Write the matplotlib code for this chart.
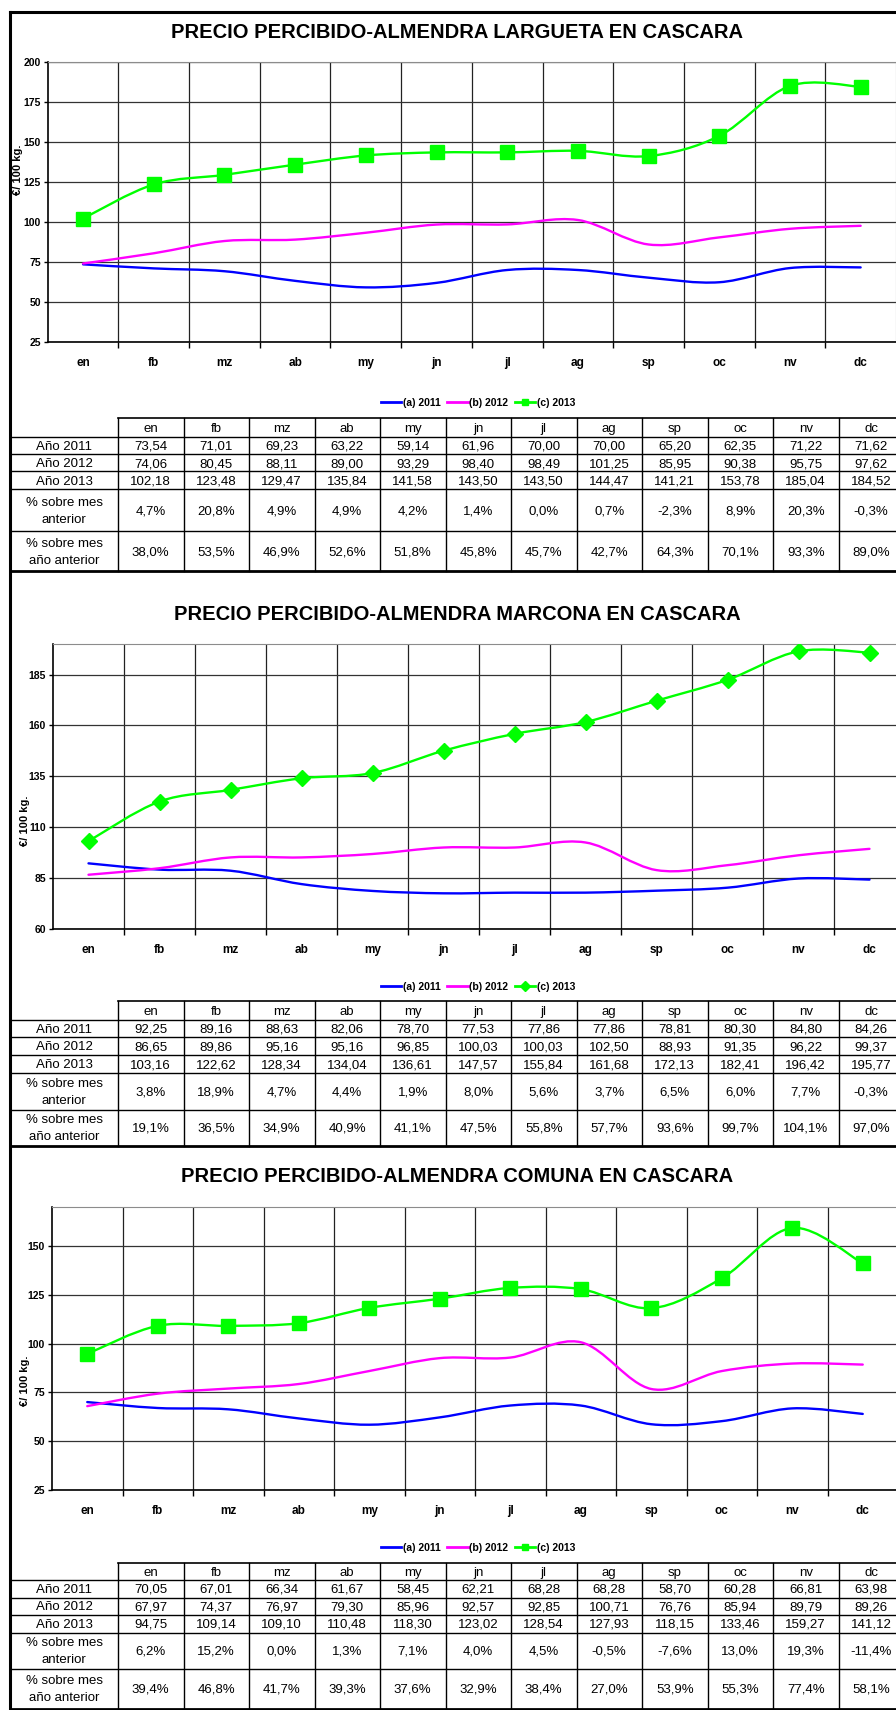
import numpy as np
import matplotlib
matplotlib.use('Agg')
import matplotlib.pyplot as plt
from matplotlib.path import Path
from matplotlib.patches import PathPatch
from matplotlib.lines import Line2D

plt.rcParams['font.family'] = ['Liberation Sans', 'DejaVu Sans']

meses = ['en', 'fb', 'mz', 'ab', 'my', 'jn', 'jl', 'ag', 'sp', 'oc', 'nv', 'dc']

# almendra largueta
larg_2011 = [73.54, 71.01, 69.23, 63.22, 59.14, 61.96, 70.00, 70.00, 65.20, 62.35, 71.22, 71.62]
larg_2012 = [74.06, 80.45, 88.11, 89.00, 93.29, 98.40, 98.49, 101.25, 85.95, 90.38, 95.75, 97.62]
larg_2013 = [102.18, 123.48, 129.47, 135.84, 141.58, 143.50, 143.50, 144.47, 141.21, 153.78, 185.04, 184.52]
larg_mes = [4.7, 20.8, 4.9, 4.9, 4.2, 1.4, 0.0, 0.7, -2.3, 8.9, 20.3, -0.3]
larg_anio = [38.0, 53.5, 46.9, 52.6, 51.8, 45.8, 45.7, 42.7, 64.3, 70.1, 93.3, 89.0]

# almendra marcona
marc_2011 = [92.25, 89.16, 88.63, 82.06, 78.70, 77.53, 77.86, 77.86, 78.81, 80.30, 84.80, 84.26]
marc_2012 = [86.65, 89.86, 95.16, 95.16, 96.85, 100.03, 100.03, 102.50, 88.93, 91.35, 96.22, 99.37]
marc_2013 = [103.16, 122.62, 128.34, 134.04, 136.61, 147.57, 155.84, 161.68, 172.13, 182.41, 196.42, 195.77]
marc_mes = [3.8, 18.9, 4.7, 4.4, 1.9, 8.0, 5.6, 3.7, 6.5, 6.0, 7.7, -0.3]
marc_anio = [19.1, 36.5, 34.9, 40.9, 41.1, 47.5, 55.8, 57.7, 93.6, 99.7, 104.1, 97.0]

# almendra comuna
com_2011 = [70.05, 67.01, 66.34, 61.67, 58.45, 62.21, 68.28, 68.28, 58.70, 60.28, 66.81, 63.98]
com_2012 = [67.97, 74.37, 76.97, 79.30, 85.96, 92.57, 92.85, 100.71, 76.76, 85.94, 89.79, 89.26]
com_2013 = [94.75, 109.14, 109.10, 110.48, 118.30, 123.02, 128.54, 127.93, 118.15, 133.46, 159.27, 141.12]
com_mes = [6.2, 15.2, 0.0, 1.3, 7.1, 4.0, 4.5, -0.5, -7.6, 13.0, 19.3, -11.4]
com_anio = [39.4, 46.8, 41.7, 39.3, 37.6, 32.9, 38.4, 27.0, 53.9, 55.3, 77.4, 58.1]

W, H = 896, 1710
fig = plt.figure(figsize=(W / 100, H / 100), dpi=100)

bg = fig.add_axes([0, 0, 1, 1])
bg.set_xlim(0, W)
bg.set_ylim(H, 0)
bg.axis('off')

# marco exterior
bg.plot([10, 10], [12, H], color='black', lw=2.2)
bg.plot([10, W], [12, 12], color='black', lw=2.2)


def caja(l, t, r, b):
    return [l / W, 1 - b / H, (r - l) / W, (b - t) / H]


def suave(ax, y, color):
    # linea suavizada tipo excel (bezier)
    x = np.arange(len(y), dtype=float)
    y = np.asarray(y, float)
    xp = np.r_[x[0], x, x[-1]]
    yp = np.r_[y[0], y, y[-1]]
    verts = [(x[0], y[0])]
    codes = [Path.MOVETO]
    for i in range(len(x) - 1):
        c1 = (x[i] + (xp[i + 2] - xp[i]) / 6, y[i] + (yp[i + 2] - yp[i]) / 6)
        c2 = (x[i + 1] - (xp[i + 3] - xp[i + 1]) / 6, y[i + 1] - (yp[i + 3] - yp[i + 1]) / 6)
        verts += [c1, c2, (x[i + 1], y[i + 1])]
        codes += [Path.CURVE4] * 3
    ax.add_patch(PathPatch(Path(verts, codes), fill=False, edgecolor=color,
                           lw=1.7, capstyle='round', zorder=3))


def num(v):
    return '{:.2f}'.format(v).replace('.', ',')


def pct(v):
    return '{:.1f}%'.format(v).replace('.', ',')


def tabla(top, alturas, a11, a12, a13, pmes, panio):
    x0, xl, cw = 10, 118, 65.5
    ys = np.cumsum([top] + alturas)
    filas = [[num(v) for v in a11], [num(v) for v in a12], [num(v) for v in a13],
             [pct(v) for v in pmes], [pct(v) for v in panio]]
    nombres = ['Año 2011', 'Año 2012', 'Año 2013', '% sobre mes\nanterior', '% sobre mes\naño anterior']
    for j, m in enumerate(meses):
        bg.text(xl + cw * (j + .5), (ys[0] + ys[1]) / 2 + 1, m, ha='center', va='center', fontsize=9.5)
    for i, fila in enumerate(filas):
        yc = (ys[i + 1] + ys[i + 2]) / 2 + 1
        bg.text((x0 + xl) / 2, yc, nombres[i], ha='center', va='center', fontsize=9.5, linespacing=1.55)
        for j, t in enumerate(fila):
            bg.text(xl + cw * (j + .5), yc, t, ha='center', va='center', fontsize=9.5)
    bg.plot([xl, W], [ys[0], ys[0]], color='black', lw=1.2)
    for k in range(1, len(ys) - 1):
        bg.plot([x0, W], [ys[k], ys[k]], color='black', lw=1.0)
    bg.plot([x0, W], [ys[-1], ys[-1]], color='black', lw=2.0)
    for j in range(13):
        bg.plot([xl + cw * j] * 2, [ys[0], ys[-1]], color='black', lw=1.0)


def panel(titulo, titulo_y, pos, ylim, yticks, s11, s12, s13, marca, ms, ylab, leg_y):
    fig.text(457 / W, 1 - titulo_y / H, titulo, ha='center', va='center',
             fontsize=14.5, fontweight='bold')
    ax = fig.add_axes(caja(*pos))
    x = np.arange(12)
    suave(ax, s11, '#0000ff')
    suave(ax, s12, '#ff00ff')
    suave(ax, s13, '#00ff00')
    ax.plot(x, s13, ls='none', marker=marca, ms=ms, color='#00ff00', zorder=4)
    ax.set_xlim(-0.5, 11.5)
    ax.set_ylim(*ylim)
    ax.set_yticks(yticks)
    ax.set_yticklabels([str(v) for v in yticks], fontsize=7.5, fontweight='bold')
    ax.set_xticks(x)
    ax.set_xticklabels(meses, fontsize=8.5, fontweight='bold')
    ax.set_xticks(np.arange(0.5, 11, 1), minor=True)
    ax.tick_params(axis='x', which='major', length=0, pad=11)
    ax.tick_params(axis='x', which='minor', length=4, width=1, direction='out')
    ax.tick_params(axis='y', length=3, width=1, pad=2)
    ax.grid(True, which='minor', axis='x', color='#222222', lw=0.9)
    ax.grid(True, which='major', axis='y', color='#333333', lw=0.9)
    ax.set_axisbelow(True)
    for s in ['top', 'right']:
        ax.spines[s].set_color('#8c8c8c')
    for s in ['left', 'bottom']:
        ax.spines[s].set_color('black')
        ax.spines[s].set_linewidth(1.2)
    fig.text(ylab[0] / W, 1 - ylab[1] / H, '€/ 100 kg.', rotation=90, ha='center', va='center',
             fontsize=8, fontweight='bold')
    handles = [Line2D([], [], color='#0000ff', lw=2),
               Line2D([], [], color='#ff00ff', lw=2),
               Line2D([], [], color='#00ff00', lw=2, marker=marca, ms=5)]
    fig.legend(handles, ['(a) 2011', '(b) 2012', '(c) 2013'], loc='center',
               bbox_to_anchor=(478 / W, 1 - leg_y / H), ncol=3, frameon=False,
               prop={'size': 7.5, 'weight': 'bold'}, handlelength=2.0,
               handletextpad=0.15, columnspacing=0.6)
    return ax


panel('PRECIO PERCIBIDO-ALMENDRA LARGUETA EN CASCARA', 33, (47.7, 62, 896, 342),
      (25, 200), list(range(25, 201, 25)), larg_2011, larg_2012, larg_2013, 's', 9.5, (18, 170), 403)
tabla(418, [19, 17.5, 17, 18, 42, 39.5], larg_2011, larg_2012, larg_2013, larg_mes, larg_anio)

panel('PRECIO PERCIBIDO-ALMENDRA MARCONA EN CASCARA', 615, (53, 644, 905, 929),
      (60, 200), list(range(60, 186, 25)), marc_2011, marc_2012, marc_2013, 'D', 8, (25, 821), 987)
tabla(1001, [19, 17, 18, 18, 36.5, 36.5], marc_2011, marc_2012, marc_2013, marc_mes, marc_anio)

panel('PRECIO PERCIBIDO-ALMENDRA COMUNA EN CASCARA', 1177, (52, 1207, 898, 1490),
      (25, 170), list(range(25, 151, 25)), com_2011, com_2012, com_2013, 's', 9.5, (25, 1381), 1548)
tabla(1563, [17, 17.5, 17, 18, 36, 40], com_2011, com_2012, com_2013, com_mes, com_anio)

fig.savefig('out.png', dpi=100)
